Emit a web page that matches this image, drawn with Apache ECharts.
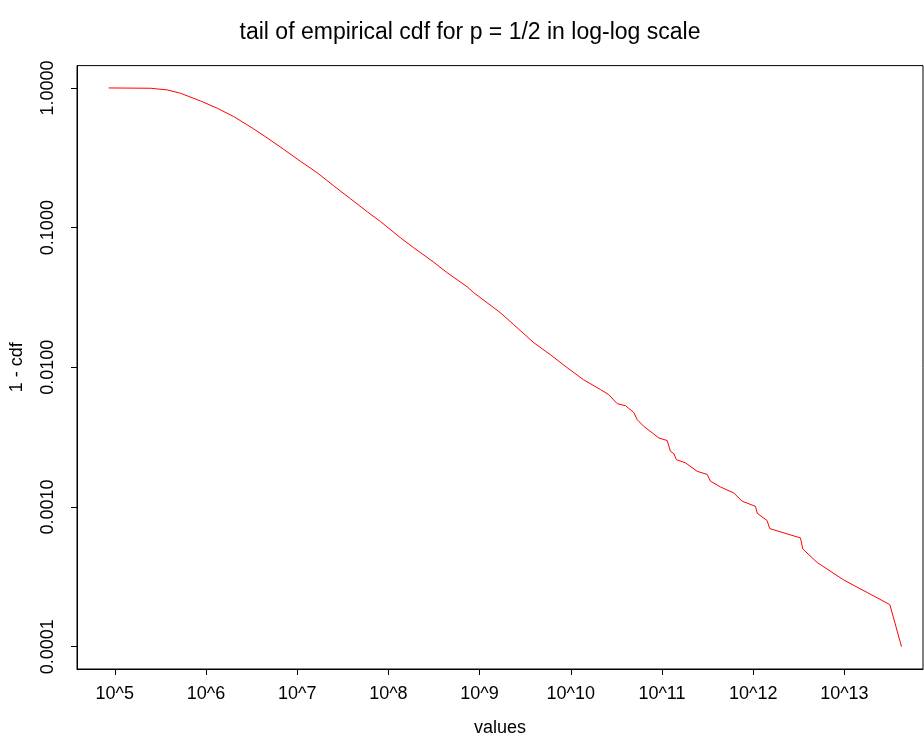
<!DOCTYPE html>
<html>
<head>
<meta charset="utf-8">
<script src="https://cdn.jsdelivr.net/npm/echarts@6/dist/echarts.min.js"></script>
<style>
  html, body { margin: 0; padding: 0; background: #fff; }
  #chart { width: 924px; height: 742px; }
</style>
</head>
<body>
<div id="chart"></div>
<script>
// Data (values, 1 - cdf)
const values = [8.59e4, 2.46e5, 3.76e5, 5.25e5, 8.71e5, 1.33e6, 2.02e6, 3.34e6, 4.69e6, 7.13e6,
  1.09e7, 1.66e7, 2.52e7, 3.84e7, 5.86e7, 8.19e7, 1.36e8, 1.90e8, 3.15e8, 4.42e8,
  7.31e8, 8.63e8, 1.69e9, 2.37e9, 3.93e9, 5.98e9, 9.14e9, 1.38e10, 2.12e10, 2.61e10,
  3.23e10, 3.98e10, 4.91e10, 5.35e10, 6.31e10, 7.82e10, 9.23e10, 1.14e11, 1.24e11, 1.35e11,
  1.44e11, 1.81e11, 2.43e11, 3.13e11, 3.40e11, 4.39e11, 6.12e11, 7.57e11, 1.06e12, 1.11e12,
  1.42e12, 1.52e12, 3.30e12, 3.50e12, 5.04e12, 9.84e12, 3.15e13, 4.23e13];
const tail = [1.0, 0.995, 0.968, 0.917, 0.807, 0.716, 0.623, 0.509, 0.439, 0.363,
  0.298, 0.247, 0.199, 0.161, 0.130, 0.1106, 0.0845, 0.0717, 0.0565, 0.0475,
  0.0377, 0.0342, 0.0246, 0.0202, 0.0150, 0.0123, 0.00993, 0.00815, 0.00692, 0.00637,
  0.00549, 0.00531, 0.00475, 0.00422, 0.00378, 0.00339, 0.00312, 0.00299, 0.00250, 0.00241,
  0.00218, 0.00207, 0.00180, 0.00171, 0.00153, 0.00139, 0.00126, 0.00110, 0.00101, 0.00090,
  0.00080, 0.00070, 0.00060, 0.00050, 0.00040, 0.00030, 0.00020, 0.00010];
// Tick labels
const xTickExp = [5, 6, 7, 8, 9, 10, 11, 12, 13];
const xTickLabels = ['10^5', '10^6', '10^7', '10^8', '10^9', '10^10', '10^11', '10^12', '10^13'];
const yTickExp = [0, -1, -2, -3, -4];
const yTickLabels = ['1.0000', '0.1000', '0.0100', '0.0010', '0.0001'];

const FONT = '"Liberation Sans", Arial, Helvetica, sans-serif';
const data = values.map((v, i) => [Math.log10(v), Math.log10(tail[i])]);

const chart = echarts.init(document.getElementById('chart'), null, { renderer: 'canvas' });
chart.setOption({
  animation: false,
  backgroundColor: '#ffffff',
  title: {
    text: 'tail of empirical cdf for p = 1/2 in log-log scale',
    left: 465,
    textAlign: 'center',
    top: 16,
    textStyle: { fontFamily: FONT, fontSize: 23, fontWeight: 'normal', color: '#000' }
  },
  grid: {
    left: 77, right: 1, top: 65.6, bottom: 72.3,
    show: true, borderColor: '#000', borderWidth: 1, backgroundColor: 'transparent'
  },
  xAxis: {
    type: 'value',
    min: 4.586, max: 13.862,
    name: 'values',
    nameLocation: 'middle',
    nameGap: 50,
    nameTextStyle: { fontFamily: FONT, fontSize: 18, color: '#000' },
    axisLine: { show: true, onZero: false, lineStyle: { color: '#000', width: 1 } },
    axisTick: { show: true, length: 6, lineStyle: { color: '#000' }, customValues: xTickExp },
    axisLabel: {
      fontFamily: FONT, fontSize: 18, color: '#000', margin: 16,
      customValues: xTickExp,
      formatter: (v) => xTickLabels[xTickExp.indexOf(Math.round(v))] || ''
    },
    splitLine: { show: false }
  },
  yAxis: {
    type: 'value',
    min: -4.16, max: 0.16,
    name: '1 - cdf',
    nameLocation: 'middle',
    nameGap: 51,
    nameTextStyle: { fontFamily: FONT, fontSize: 18, color: '#000' },
    axisLine: { show: true, onZero: false, lineStyle: { color: '#000', width: 1 } },
    axisTick: { show: true, length: 6, lineStyle: { color: '#000' }, customValues: yTickExp },
    axisLabel: {
      fontFamily: FONT, fontSize: 18, color: '#000', margin: 20, rotate: 90,
      customValues: yTickExp,
      formatter: (v) => yTickLabels[yTickExp.indexOf(Math.round(v))] || ''
    },
    splitLine: { show: false }
  },
  series: [{
    type: 'line',
    data: data,
    showSymbol: false,
    symbol: 'none',
    lineStyle: { color: '#ff0000', width: 1 },
    clip: true
  }]
});
</script>
</body>
</html>
